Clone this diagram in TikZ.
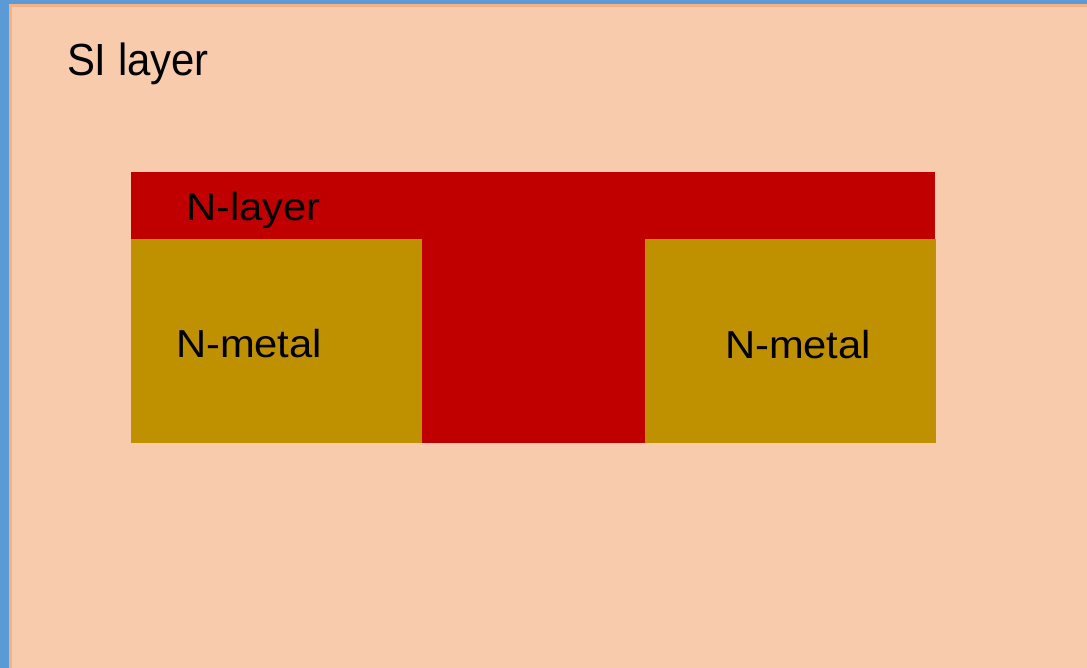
\documentclass[tikz,border=0pt]{standalone}
\usepackage{fontspec}
\setmainfont{Liberation Sans}
\definecolor{frameblue}{RGB}{91,155,213}
\definecolor{peachedge}{RGB}{244,177,131}
\definecolor{peach}{RGB}{248,203,173}
\definecolor{nred}{RGB}{192,0,0}
\definecolor{ngold}{RGB}{191,144,0}
\tikzset{
  lbl/.style={anchor=base west, inner sep=0pt, outer sep=0pt, text=black},
  small/.style={lbl, font=\fontsize{39}{44}\selectfont, xscale=1.07},
  big/.style={lbl, font=\fontsize{45}{50}\selectfont, xscale=0.93},
}
\begin{document}
\begin{tikzpicture}[x=1pt,y=-1pt]
\useasboundingbox (0,0) rectangle (1087,668);
\fill[frameblue] (0,0) rectangle (1087,668);
\fill[peachedge] (9,4) rectangle (1087,668);
\fill[peach] (12,7) rectangle (1087,668);
% layers
\fill[nred] (131,172) rectangle (935,239);
\fill[nred] (422,239) rectangle (645,443);
\fill[ngold] (131,239) rectangle (422,443);
\fill[ngold] (645,239) rectangle (936,443);
% labels
\node[big] (si) at (67,76) {SI layer};
\node[small] (nlayer) at (186,221) {N-layer};
\node[small] (nmetalL) at (176,357) {N-metal};
\node[small] (nmetalR) at (725,359) {N-metal};
\end{tikzpicture}
\end{document}
